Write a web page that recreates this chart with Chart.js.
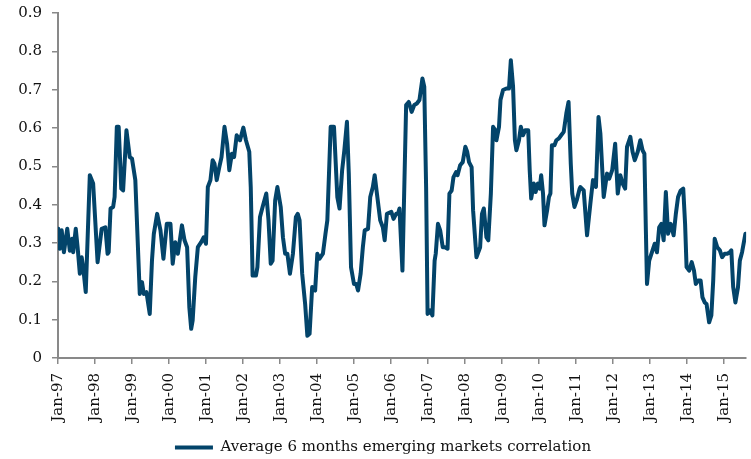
<!DOCTYPE html>
<html>
<head>
<meta charset="utf-8">
<title>Average 6 months emerging markets correlation</title>
<script src="https://cdn.jsdelivr.net/npm/chart.js@4.4.1/dist/chart.umd.min.js"></script>
<style>
    html, body { margin: 0; padding: 0; background: #ffffff; }
    #contenedor { width: 751px; height: 459px; }
</style>
</head>
<body>
<div id="contenedor"><canvas id="graficoCorrelacion"></canvas></div>
<script>
// Fechas como año decimal
const fechas = [
    1997.01, 1997.05, 1997.10, 1997.16, 1997.25, 1997.32, 1997.38, 1997.41, 1997.48, 1997.53,
    1997.59, 1997.64, 1997.68, 1997.75, 1997.86, 1997.95, 1998.07, 1998.18, 1998.28, 1998.34,
    1998.37, 1998.42, 1998.49, 1998.53, 1998.59, 1998.64, 1998.71, 1998.76, 1998.85, 1998.94,
    1999.00, 1999.09, 1999.21, 1999.27, 1999.32, 1999.39, 1999.48, 1999.54, 1999.59, 1999.68,
    1999.77, 1999.85, 1999.94, 2000.04, 2000.10, 2000.17, 2000.24, 2000.28, 2000.35, 2000.42,
    2000.49, 2000.55, 2000.60, 2000.64, 2000.71, 2000.78, 2000.87, 2000.94, 2001.00, 2001.05,
    2001.12, 2001.18, 2001.23, 2001.29, 2001.36, 2001.42, 2001.50, 2001.57, 2001.63, 2001.70,
    2001.76, 2001.83, 2001.92, 2002.01, 2002.08, 2002.17, 2002.21, 2002.26, 2002.35, 2002.39,
    2002.46, 2002.53, 2002.63, 2002.69, 2002.75, 2002.80, 2002.87, 2002.93, 2003.02, 2003.08,
    2003.14, 2003.20, 2003.27, 2003.35, 2003.43, 2003.48, 2003.53, 2003.60, 2003.68, 2003.74,
    2003.80, 2003.87, 2003.95, 2004.01, 2004.07, 2004.16, 2004.23, 2004.28, 2004.37, 2004.46,
    2004.55, 2004.61, 2004.68, 2004.74, 2004.81, 2004.86, 2004.92, 2005.00, 2005.06, 2005.11,
    2005.18, 2005.24, 2005.29, 2005.38, 2005.44, 2005.51, 2005.56, 2005.62, 2005.71, 2005.78,
    2005.83, 2005.89, 2006.01, 2006.07, 2006.14, 2006.19, 2006.23, 2006.28, 2006.31, 2006.41,
    2006.48, 2006.56, 2006.63, 2006.70, 2006.77, 2006.85, 2006.90, 2006.95, 2006.99, 2007.06,
    2007.12, 2007.18, 2007.21, 2007.27, 2007.33, 2007.40, 2007.46, 2007.53, 2007.58, 2007.64,
    2007.69, 2007.76, 2007.80, 2007.87, 2007.94, 2008.01, 2008.06, 2008.11, 2008.18, 2008.22,
    2008.31, 2008.41, 2008.46, 2008.51, 2008.58, 2008.63, 2008.70, 2008.76, 2008.82, 2008.85,
    2008.92, 2008.96, 2009.03, 2009.12, 2009.19, 2009.24, 2009.30, 2009.35, 2009.39, 2009.46,
    2009.51, 2009.57, 2009.63, 2009.71, 2009.75, 2009.79, 2009.86, 2009.91, 2009.97, 2010.02,
    2010.06, 2010.11, 2010.15, 2010.22, 2010.27, 2010.31, 2010.35, 2010.42, 2010.47, 2010.54,
    2010.60, 2010.67, 2010.74, 2010.80, 2010.86, 2010.90, 2010.96, 2011.02, 2011.10, 2011.12,
    2011.21, 2011.30, 2011.39, 2011.46, 2011.54, 2011.61, 2011.66, 2011.75, 2011.84, 2011.90,
    2011.98, 2012.06, 2012.13, 2012.20, 2012.26, 2012.33, 2012.38, 2012.47, 2012.53, 2012.59,
    2012.67, 2012.74, 2012.80, 2012.85, 2012.89, 2012.92, 2012.98, 2013.07, 2013.13, 2013.19,
    2013.25, 2013.31, 2013.37, 2013.43, 2013.49, 2013.56, 2013.64, 2013.70, 2013.76, 2013.83,
    2013.90, 2013.95, 2013.99, 2014.06, 2014.13, 2014.19, 2014.24, 2014.30, 2014.37, 2014.42,
    2014.48, 2014.53, 2014.60, 2014.66, 2014.71, 2014.75, 2014.82, 2014.89, 2014.95, 2015.02,
    2015.09, 2015.16, 2015.20, 2015.25, 2015.31, 2015.38, 2015.43, 2015.49, 2015.58
];

const correlacion = [
    0.337, 0.285, 0.333, 0.276, 0.337, 0.280, 0.311, 0.276, 0.337, 0.289,
    0.220, 0.263, 0.237, 0.172, 0.477, 0.455, 0.250, 0.337, 0.341, 0.272,
    0.276, 0.390, 0.394, 0.420, 0.603, 0.603, 0.442, 0.437, 0.594, 0.524,
    0.520, 0.464, 0.167, 0.198, 0.167, 0.172, 0.115, 0.254, 0.324, 0.376,
    0.333, 0.259, 0.350, 0.350, 0.246, 0.302, 0.272, 0.298, 0.346, 0.307,
    0.289, 0.132, 0.076, 0.098, 0.211, 0.289, 0.302, 0.315, 0.298, 0.446,
    0.464, 0.516, 0.507, 0.464, 0.498, 0.524, 0.603, 0.559, 0.490, 0.533,
    0.524, 0.581, 0.568, 0.601, 0.568, 0.538, 0.446, 0.215, 0.215, 0.237,
    0.368, 0.394, 0.429, 0.359, 0.246, 0.254, 0.411, 0.446, 0.394, 0.315,
    0.272, 0.272, 0.220, 0.272, 0.368, 0.376, 0.359, 0.220, 0.141, 0.058,
    0.063, 0.185, 0.176, 0.272, 0.259, 0.272, 0.324, 0.359, 0.603, 0.603,
    0.420, 0.390, 0.490, 0.542, 0.616, 0.481, 0.237, 0.193, 0.193, 0.176,
    0.220, 0.289, 0.333, 0.337, 0.420, 0.446, 0.477, 0.429, 0.359, 0.341,
    0.307, 0.376, 0.381, 0.363, 0.376, 0.376, 0.390, 0.289, 0.228, 0.660,
    0.668, 0.642, 0.660, 0.664, 0.673, 0.729, 0.708, 0.446, 0.115, 0.124,
    0.111, 0.254, 0.272, 0.350, 0.333, 0.289, 0.289, 0.285, 0.429, 0.437,
    0.472, 0.485, 0.477, 0.503, 0.511, 0.551, 0.538, 0.511, 0.498, 0.385,
    0.263, 0.289, 0.376, 0.390, 0.315, 0.307, 0.429, 0.603, 0.594, 0.568,
    0.603, 0.673, 0.699, 0.703, 0.703, 0.777, 0.708, 0.568, 0.542, 0.568,
    0.603, 0.581, 0.594, 0.594, 0.490, 0.416, 0.455, 0.433, 0.455, 0.442,
    0.477, 0.429, 0.346, 0.385, 0.420, 0.429, 0.555, 0.555, 0.568, 0.573,
    0.581, 0.590, 0.638, 0.668, 0.507, 0.429, 0.394, 0.411, 0.442, 0.446,
    0.437, 0.320, 0.403, 0.464, 0.446, 0.629, 0.586, 0.420, 0.481, 0.468,
    0.490, 0.559, 0.429, 0.477, 0.455, 0.442, 0.551, 0.577, 0.538, 0.516,
    0.538, 0.568, 0.542, 0.533, 0.333, 0.193, 0.254, 0.281, 0.298, 0.276,
    0.341, 0.350, 0.307, 0.433, 0.324, 0.350, 0.320, 0.376, 0.420, 0.437,
    0.442, 0.350, 0.237, 0.228, 0.250, 0.228, 0.193, 0.202, 0.202, 0.158,
    0.145, 0.141, 0.093, 0.111, 0.202, 0.311, 0.289, 0.281, 0.263, 0.272,
    0.272, 0.276, 0.281, 0.185, 0.145, 0.185, 0.254, 0.276, 0.324
];

// Marcas del eje X (cada enero)
const aniosTicks = [1997, 1998, 1999, 2000, 2001, 2002, 2003, 2004, 2005, 2006,
                    2007, 2008, 2009, 2010, 2011, 2012, 2013, 2014, 2015];
const etiquetasTicks = ["Jan-97", "Jan-98", "Jan-99", "Jan-00", "Jan-01", "Jan-02", "Jan-03",
                        "Jan-04", "Jan-05", "Jan-06", "Jan-07", "Jan-08", "Jan-09", "Jan-10",
                        "Jan-11", "Jan-12", "Jan-13", "Jan-14", "Jan-15"];

const nombreSerie = "Average 6 months emerging markets correlation";

const colorLinea = "#03446a";
const colorEje = "#898989";
const fuente = { family: "'DejaVu Serif', serif", size: 15 };

const puntos = fechas.map((f, i) => ({ x: f, y: correlacion[i] }));

const ctx = document.getElementById("graficoCorrelacion").getContext("2d");
const correlacionChart = new Chart(ctx, {
    type: 'line',
    data: {
        datasets: [{
            label: nombreSerie,
            data: puntos,
            borderColor: colorLinea,
            backgroundColor: colorLinea,
            borderWidth: 4,
            pointRadius: 0,
            tension: 0,
            borderJoinStyle: 'round',
            borderCapStyle: 'round'
        }]
    },
    options: {
        responsive: true,
        maintainAspectRatio: false,
        animation: false,
        layout: {
            // padding inferior negativo para bajar la leyenda
            padding: { top: 0, right: 2, left: 17, bottom: -6 }
        },
        scales: {
            x: {
                type: 'linear',
                min: 1997,
                max: 2015.6,
                afterBuildTicks: function(scale) {
                    scale.ticks = aniosTicks.map(v => ({ value: v }));
                },
                afterFit: function(scale) {
                    scale.height = 80.5;
                },
                ticks: {
                    autoSkip: false,
                    minRotation: 90,
                    maxRotation: 90,
                    padding: 9,
                    color: '#111',
                    font: fuente,
                    callback: function(value) {
                        const i = aniosTicks.indexOf(value);
                        return i >= 0 ? etiquetasTicks[i] : '';
                    }
                },
                grid: {
                    drawOnChartArea: false,
                    drawTicks: true,
                    tickLength: 6,
                    color: colorEje,
                    lineWidth: 1.5
                },
                border: { color: colorEje, width: 2 }
            },
            y: {
                min: 0,
                max: 0.9,
                afterFit: function(scale) {
                    // eje vertical en x = 58 y el 0.9 arriba en y = 13
                    scale.width = 41;
                    scale.paddingTop = 13;
                },
                ticks: {
                    stepSize: 0.1,
                    padding: 10,
                    color: '#111',
                    font: fuente
                },
                grid: {
                    drawOnChartArea: false,
                    drawTicks: true,
                    tickLength: 6,
                    color: colorEje,
                    lineWidth: 1.5
                },
                border: { color: colorEje, width: 2 }
            }
        },
        plugins: {
            legend: {
                position: 'bottom',
                labels: {
                    usePointStyle: true,
                    pointStyle: 'line',
                    pointStyleWidth: 38,
                    color: '#111',
                    font: fuente,
                    padding: 1.5
                }
            },
            tooltip: { enabled: false }
        }
    }
});
</script>
</body>
</html>
